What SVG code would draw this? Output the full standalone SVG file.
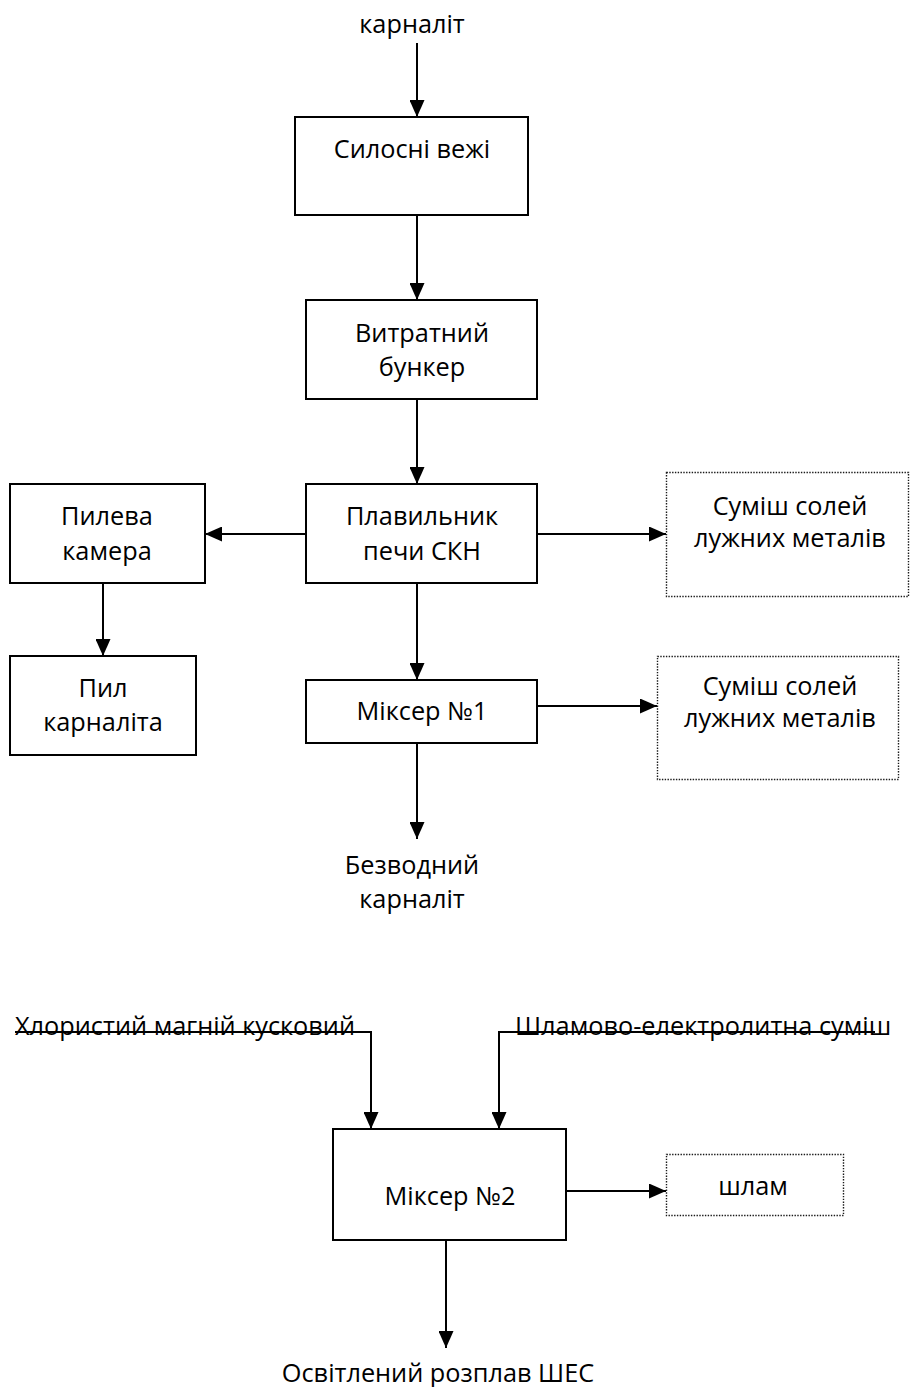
<svg xmlns="http://www.w3.org/2000/svg" width="910" height="1387" viewBox="0 0 910 1387">
  <defs>
    <marker id="arrow" markerUnits="userSpaceOnUse" markerWidth="17" markerHeight="15" refX="17" refY="7.5" orient="auto">
      <path d="M0,0 L17,7.5 L0,15 z" fill="#000"/>
    </marker>
    <style>
      text { font-family: "Open Sans", "Liberation Sans", sans-serif; font-size: 25.3px; fill: #000; text-anchor: middle; }
      .box { fill: #fff; stroke: #000; stroke-width: 2; }
      .out { fill: #fff; stroke: #1a1a1a; stroke-width: 1.4; stroke-dasharray: 1.4 1.4; }
      .flow { fill: none; stroke: #000; stroke-width: 2; marker-end: url(#arrow); }
      .left { text-anchor: start; }
    </style>
  </defs>
  <rect width="910" height="1387" fill="#fff"/>

  <!-- connectors -->
  <g id="connectors">
    <line class="flow" x1="417" y1="43" x2="417" y2="117"/>
    <line class="flow" x1="417" y1="215" x2="417" y2="300"/>
    <line class="flow" x1="417" y1="399" x2="417" y2="484"/>
    <line class="flow" x1="306" y1="534" x2="205" y2="534"/>
    <line class="flow" x1="537" y1="534" x2="666" y2="534"/>
    <line class="flow" x1="103" y1="583" x2="103" y2="656"/>
    <line class="flow" x1="417" y1="583" x2="417" y2="680"/>
    <line class="flow" x1="537" y1="706" x2="657" y2="706"/>
    <line class="flow" x1="417" y1="743" x2="417" y2="839"/>
    <polyline class="flow" points="15,1032 371,1032 371,1129"/>
    <polyline class="flow" points="875,1032 499,1032 499,1129"/>
    <line class="flow" x1="566" y1="1191" x2="666" y2="1191"/>
    <line class="flow" x1="446" y1="1240" x2="446" y2="1348"/>
  </g>

  <!-- free labels -->
  <g id="input-carnallite">
    <text x="412" y="33">карналіт</text>
  </g>
  <g id="output-anhydrous">
    <text x="412" y="874">Безводний</text>
    <text x="412" y="908">карналіт</text>
  </g>
  <g id="input-mgcl">
    <text class="left" x="15" y="1035">Хлористий магній кусковий</text>
  </g>
  <g id="input-sludge">
    <text class="left" x="515" y="1035">Шламово-електролитна суміш</text>
  </g>
  <g id="output-melt">
    <text x="438" y="1382">Освітлений розплав ШЕС</text>
  </g>

  <!-- process nodes -->
  <g id="silo">
    <rect class="box" x="295" y="117" width="233" height="98"/>
    <text x="412" y="158">Силосні вежі</text>
  </g>
  <g id="bunker">
    <rect class="box" x="306" y="300" width="231" height="99"/>
    <text x="422" y="342">Витратний</text>
    <text x="422" y="376">бункер</text>
  </g>
  <g id="melter">
    <rect class="box" x="306" y="484" width="231" height="99"/>
    <text x="422" y="525">Плавильник</text>
    <text x="422" y="560">печи СКН</text>
  </g>
  <g id="dust-chamber">
    <rect class="box" x="10" y="484" width="195" height="99"/>
    <text x="107" y="525">Пилева</text>
    <text x="107" y="560">камера</text>
  </g>
  <g id="dust">
    <rect class="box" x="10" y="656" width="186" height="99"/>
    <text x="103" y="697">Пил</text>
    <text x="103" y="731">карналіта</text>
  </g>
  <g id="mixer-1">
    <rect class="box" x="306" y="680" width="231" height="63"/>
    <text x="422" y="720">Міксер №1</text>
  </g>
  <g id="salts-1">
    <rect class="out" x="666.5" y="472.5" width="242" height="124"/>
    <text x="790" y="515">Суміш солей</text>
    <text x="790" y="547">лужних металів</text>
  </g>
  <g id="salts-2">
    <rect class="out" x="657.5" y="656.5" width="241" height="123"/>
    <text x="780" y="695">Суміш солей</text>
    <text x="780" y="727">лужних металів</text>
  </g>
  <g id="mixer-2">
    <rect class="box" x="333" y="1129" width="233" height="111"/>
    <text x="450" y="1205">Міксер №2</text>
  </g>
  <g id="sludge">
    <rect class="out" x="666.5" y="1154.5" width="177" height="61"/>
    <text x="753" y="1195">шлам</text>
  </g>
</svg>
